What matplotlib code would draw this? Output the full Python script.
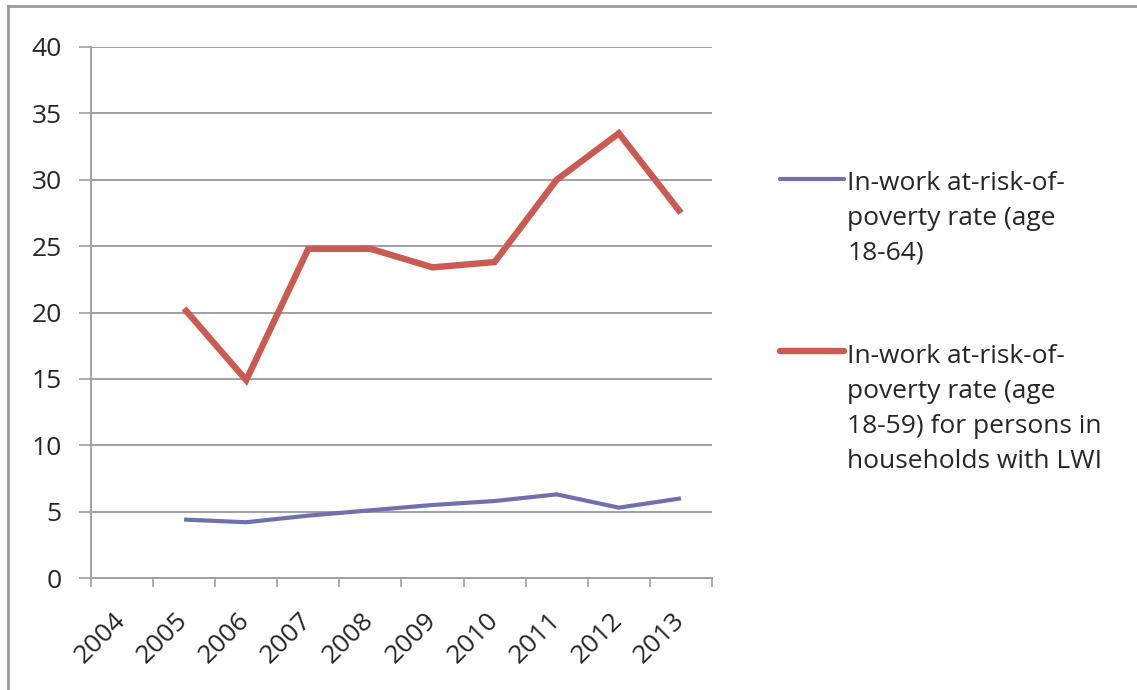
import matplotlib
matplotlib.use("Agg")
import matplotlib.pyplot as plt
from matplotlib.lines import Line2D

# Data
years = ["2004", "2005", "2006", "2007", "2008", "2009", "2010", "2011", "2012", "2013"]
rate_18_64 = [None, 4.4, 4.2, 4.7, 5.1, 5.5, 5.8, 6.3, 5.3, 6.0]
rate_lwi = [None, 20.3, 14.9, 24.8, 24.8, 23.4, 23.8, 30.0, 33.5, 27.5]
series_labels = [
    "In-work at-risk-of-\npoverty rate (age\n18-64)",
    "In-work at-risk-of-\npoverty rate (age\n18-59) for persons in\nhouseholds with LWI",
]
series_colors = ["#7070AE", "#CB5A52"]
series_widths = [3.0, 4.6]

plt.rcParams["font.family"] = ["Open Sans", "DejaVu Sans"]
fs = 19
fig = plt.figure(figsize=(11.37, 6.9), dpi=100)
ax = fig.add_axes([0.0800, 0.1623, 0.5462, 0.7696])

x = list(range(len(years)))
for vals, col, lw in zip([rate_18_64, rate_lwi], series_colors, series_widths):
    xs = [i for i, v in zip(x, vals) if v is not None]
    ys = [v for v in vals if v is not None]
    ax.plot(xs, ys, color=col, lw=lw, solid_joinstyle="miter", solid_capstyle="butt", zorder=3)

ax.set_xlim(-0.5, len(years) - 0.5)
ax.set_ylim(0, 40)
ax.set_yticks(range(0, 41, 5))
ax.grid(axis="y", color="#a0a0a0", lw=1.4)
ax.set_axisbelow(True)

# category boundaries as major ticks, labels on minor ticks at centres
ax.set_xticks([i - 0.5 for i in range(len(years) + 1)])
ax.set_xticklabels([])
ax.set_xticks(x, minor=True)
ax.set_xticklabels(years, minor=True, rotation=45, ha="right", va="center",
                   rotation_mode="anchor", fontsize=fs, color="#262626")
ax.tick_params(axis="x", which="major", length=6.5, width=1.2, color="#a0a0a0")
ax.tick_params(axis="x", which="minor", length=0, pad=28)
ax.tick_params(axis="y", length=9, width=1.2, color="#a0a0a0", labelsize=fs,
               labelcolor="#262626", pad=12)

for side in ["top", "right"]:
    ax.spines[side].set_visible(False)
for side in ["left", "bottom"]:
    ax.spines[side].set_color("#a0a0a0")
    ax.spines[side].set_linewidth(1.4)

# legend drawn by hand so the key line sits beside the first text line
legend_keys = [0.7413, 0.4913]
legend_tops = [0.7522, 0.5014]
for lab, col, lw, ykey, ytop in zip(series_labels, series_colors, series_widths,
                                    legend_keys, legend_tops):
    fig.add_artist(Line2D([0.686, 0.742], [ykey, ykey], color=col, lw=lw,
                          solid_capstyle="round"))
    fig.text(0.745, ytop, lab, fontsize=fs, color="#262626",
             va="top", ha="left", linespacing=1.52)

# outer chart frame (top and left edges visible)
fig.add_artist(Line2D([0.007, 1.0], [0.991, 0.991], color="#9a9a9a", lw=2))
fig.add_artist(Line2D([0.007, 0.007], [0.0, 0.991], color="#9a9a9a", lw=2))

fig.savefig("out.png", dpi=100)
